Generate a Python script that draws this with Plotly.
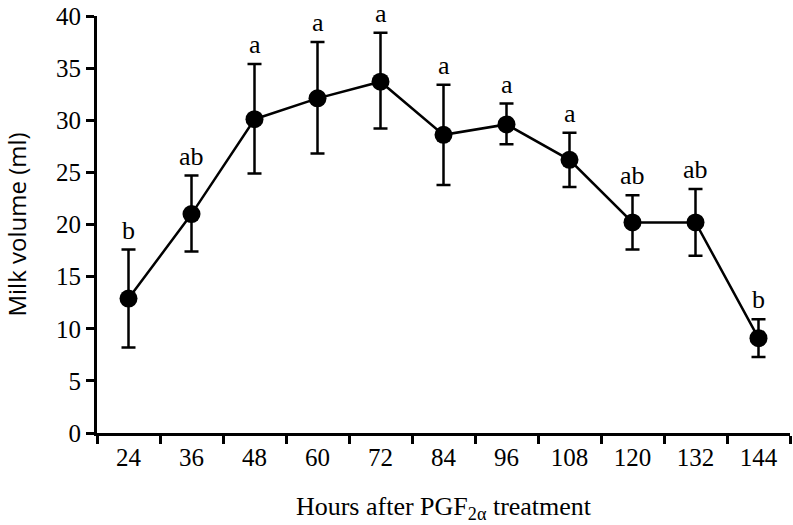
import plotly.graph_objects as go

hours = ["24", "36", "48", "60", "72", "84", "96", "108", "120", "132", "144"]
milk_volume = [12.9, 21.0, 30.1, 32.1, 33.7, 28.6, 29.6, 26.2, 20.2, 20.2, 9.1]
error_upper = [4.7, 3.7, 5.3, 5.4, 4.7, 4.8, 2.0, 2.6, 2.6, 3.2, 1.8]
error_lower = [4.7, 3.6, 5.2, 5.3, 4.5, 4.8, 1.9, 2.6, 2.6, 3.2, 1.8]
letters = ["b", "ab", "a", "a", "a", "a", "a", "a", "ab", "ab", "b"]

FONT = "Liberation Serif, Times New Roman, serif"
SANS = "Open Sans, Liberation Sans, sans-serif"

fig = go.Figure()
fig.add_trace(go.Scatter(
    x=hours, y=milk_volume, mode="lines+markers",
    line=dict(color="black", width=2.5),
    marker=dict(color="black", size=18),
    error_y=dict(type="data", array=error_upper, arrayminus=error_lower,
                 color="black", thickness=2.5, width=7),
    showlegend=False,
))

for i, (v, e, t) in enumerate(zip(milk_volume, error_upper, letters)):
    fig.add_annotation(x=i, y=v + e, text=t, showarrow=False,
                       yanchor="bottom", yshift=3,
                       font=dict(family=FONT, size=26, color="black"))

fig.update_layout(
    width=793, height=525,
    margin=dict(l=97, r=3, t=13, b=92),
    plot_bgcolor="white", paper_bgcolor="white",
    font=dict(family=FONT, color="black"),
)
fig.update_xaxes(
    type="category", tickson="boundaries", range=[-0.5, 10.5],
    categoryorder="array", categoryarray=hours,
    showline=True, linecolor="black", linewidth=3,
    ticks="outside", ticklen=8, tickwidth=3, tickcolor="black",
    showgrid=False, zeroline=False, ticklabeloverflow="allow",
    tickfont=dict(family=FONT, size=25, color="black"),
    title=dict(text="Hours after PGF<sub>2α</sub> treatment",
               font=dict(family=FONT, size=26, color="black"), standoff=27),
)
fig.update_yaxes(
    range=[0, 40], dtick=5,
    showline=True, linecolor="black", linewidth=3,
    ticks="outside", ticklen=8, tickwidth=3, tickcolor="black",
    showgrid=False, zeroline=False, ticklabeloverflow="allow",
    tickfont=dict(family=FONT, size=25, color="black"),
    title=dict(text="Milk volume (ml)",
               font=dict(family=SANS, size=24, color="black"), standoff=23),
)

fig.write_html("out.html", config={"displayModeBar": False},
               post_script="document.body.style.margin='0';")
